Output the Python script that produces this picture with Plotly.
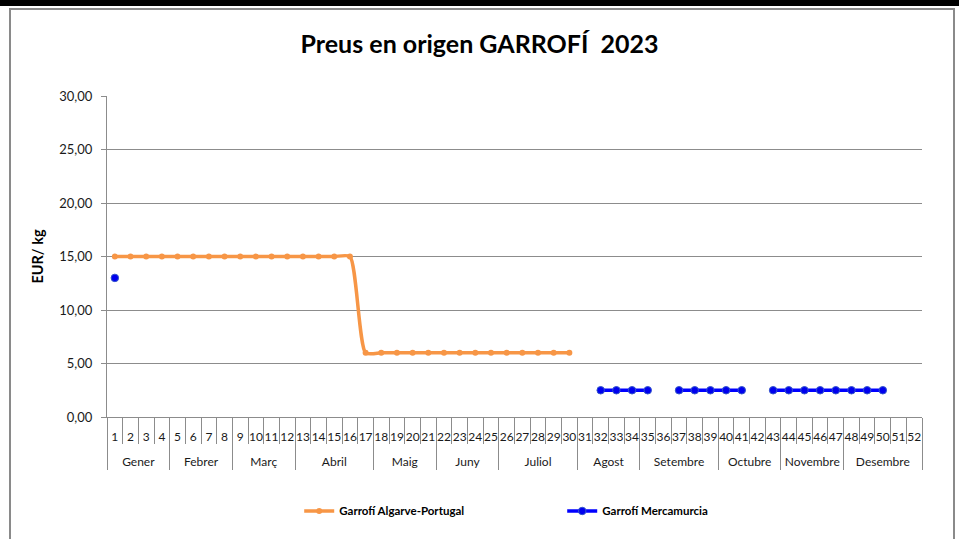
import plotly.graph_objects as go

# ---- data ----
weeks = [str(i) for i in range(1, 53)]
month_names = ["Gener", "Febrer", "Març", "Abril", "Maig", "Juny", "Juliol",
               "Agost", "Setembre", "Octubre", "Novembre", "Desembre"]
weeks_per_month = [4, 4, 4, 5, 4, 4, 5, 4, 5, 4, 4, 5]

algarve = [15, 15, 15, 15, 15, 15, 15, 15, 15, 15, 15, 15, 15, 15, 15, 15,
           6, 6, 6, 6, 6, 6, 6, 6, 6, 6, 6, 6, 6, 6,
           None, None, None, None, None, None, None, None, None, None, None,
           None, None, None, None, None, None, None, None, None, None, None]

mercamurcia = [13, None, None, None, None, None, None, None, None, None,
               None, None, None, None, None, None, None, None, None, None,
               None, None, None, None, None, None, None, None, None, None,
               None, 2.5, 2.5, 2.5, 2.5, None, 2.5, 2.5, 2.5, 2.5,
               2.5, None, 2.5, 2.5, 2.5, 2.5, 2.5, 2.5, 2.5, 2.5,
               None, None]

y_ticks = [0, 5, 10, 15, 20, 25, 30]

month_of_week = []
for m, n in zip(month_names, weeks_per_month):
    month_of_week += [m] * n
# week label with a spacer line so the month row sits lower
week_labels = [w + "<br><span style='font-size:21px'>\u00a0</span>" for w in weeks]
x_multi = [month_of_week, week_labels]

FONT = "Lato, Carlito, 'Open Sans', sans-serif"
GRID = "#8c8c8c"

fig = go.Figure()
fig.add_trace(go.Scatter(
    x=x_multi, y=algarve, name="<b>Garrofí Algarve-Portugal</b>",
    mode="lines+markers", line=dict(color="#F79646", width=3.5, shape="spline", smoothing=0.6),
    marker=dict(color="#F79646", size=6), connectgaps=False))
fig.add_trace(go.Scatter(
    x=x_multi, y=mercamurcia, name="<b>Garrofí Mercamurcia</b>",
    mode="lines+markers", line=dict(color="#0000FF", width=3.5),
    marker=dict(color="#0000EE", size=7.5, line=dict(color="#3355CC", width=1)),
    connectgaps=False))

fig.update_layout(
    width=959, height=539,
    margin=dict(l=107, r=37, t=96, b=122),
    paper_bgcolor="white", plot_bgcolor="white",
    separators=",.",
    font=dict(family=FONT, size=12, color="#1a1a1a"),
    title=dict(text="<b>Preus en origen GARROFÍ  2023</b>", x=0.5, xref="container",
               xanchor="center", y=0.918, yanchor="middle",
               font=dict(family=FONT, size=25, color="black")),
    showlegend=True,
    legend=dict(orientation="h", xref="container", yref="container",
                x=0.312, xanchor="left", y=0.052, yanchor="middle",
                entrywidth=218, entrywidthmode="pixels",
                font=dict(family=FONT, size=11.5, color="black"),
                itemclick=False, bgcolor="rgba(0,0,0,0)"),
    shapes=[
        dict(type="rect", xref="paper", yref="paper", layer="below",
             x0=-97/815, x1=1+32/815, y0=-130/321, y1=1+87/321,
             line=dict(color="#8a8a8a", width=2), fillcolor="rgba(0,0,0,0)"),
        dict(type="rect", xref="paper", yref="paper", layer="above",
             x0=-107/815, x1=1+37/815, y0=1+90/321, y1=1+96/321,
             line=dict(width=0), fillcolor="black"),
    ],
)

fig.update_yaxes(
    range=[0, 30], tickvals=y_ticks, tickformat=".2f",
    showgrid=True, gridcolor=GRID, gridwidth=1,
    showline=True, linecolor=GRID, linewidth=1,
    ticks="outside", ticklen=5, tickcolor=GRID,
    ticklabelstandoff=6,
    zeroline=False,
    tickfont=dict(family=FONT, size=13, color="#1a1a1a"),
    title=dict(text="<b>EUR/ kg</b>", font=dict(family=FONT, size=14.5, color="black"),
               standoff=12),
)
fig.update_xaxes(
    type="multicategory", range=[-0.5, 51.5], autorange=False,
    showgrid=False, showline=True, linecolor=GRID, linewidth=1,
    ticks="outside", ticklen=26, tickcolor=GRID, tickson="boundaries",
    showdividers=True, dividercolor=GRID, dividerwidth=1,
    tickangle=0, ticklabelstandoff=9,
    tickfont=dict(family=FONT, size=12, color="#1a1a1a"),
    mirror=False,
)

fig.write_html("out.html", config={"displayModeBar": False},
               post_script="document.body.style.margin='0px';")
